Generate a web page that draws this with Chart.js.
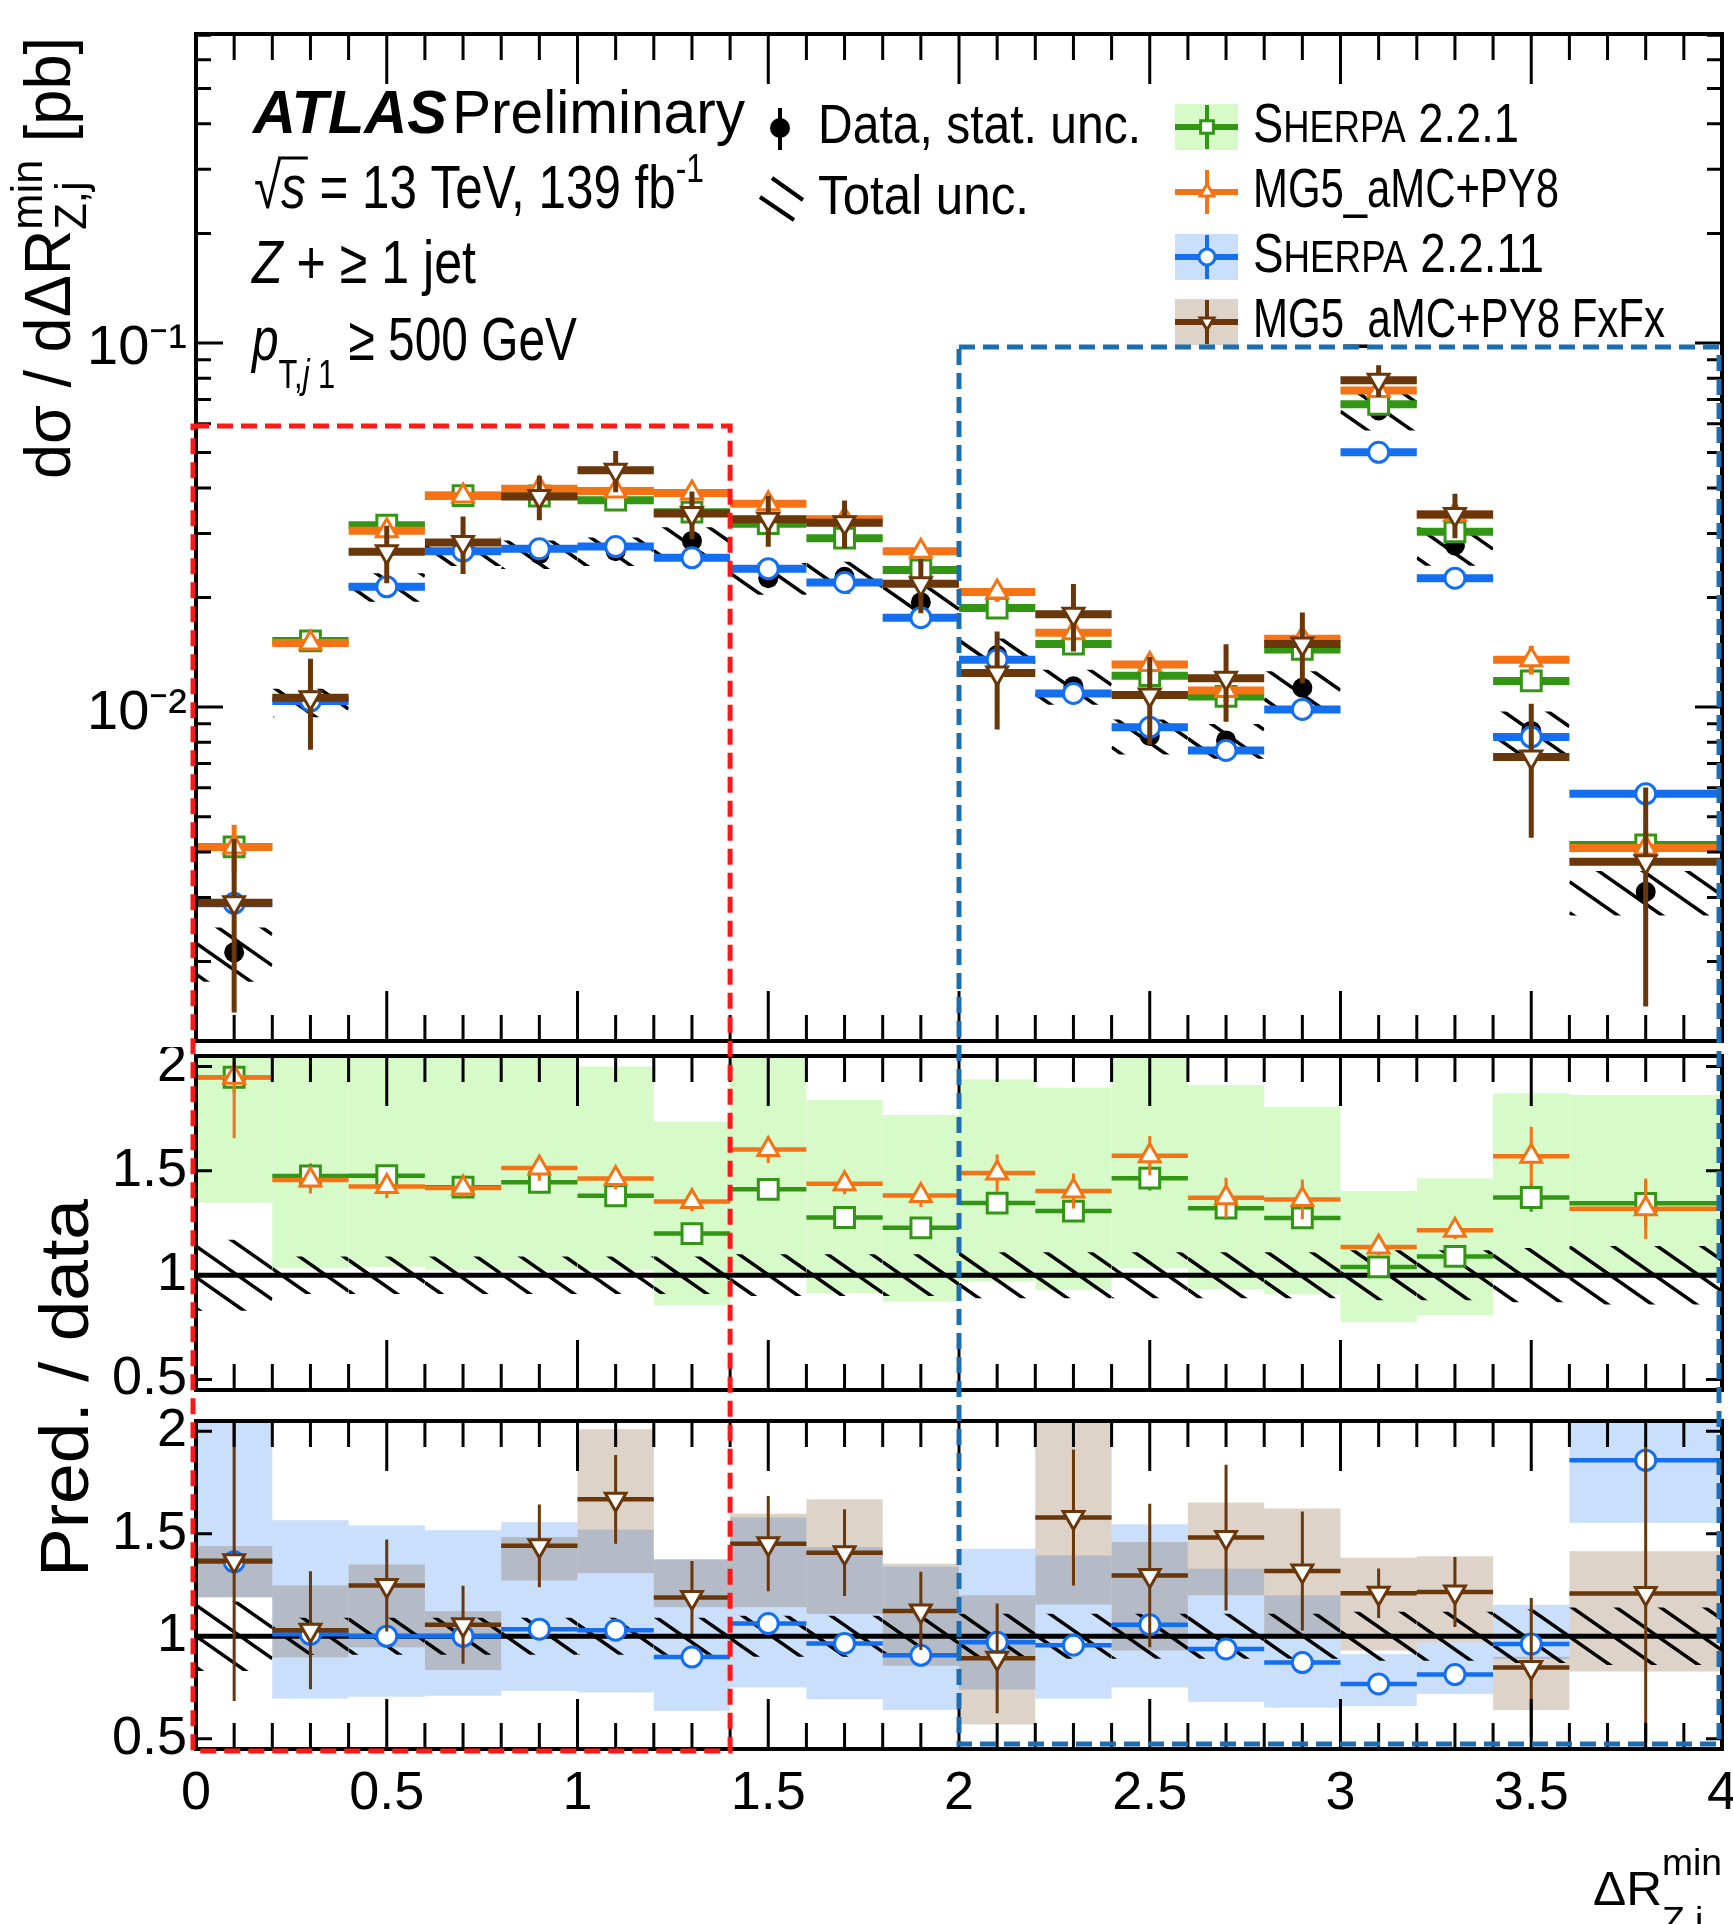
<!DOCTYPE html>
<html>
<head>
<meta charset="utf-8">
<title>Z + jet, dR min</title>
<script src="https://cdn.jsdelivr.net/npm/chart.js@4.4.1/dist/chart.umd.min.js"></script>
<style>
  html, body { margin: 0; padding: 0; background: #fff; }
  #page { position: relative; width: 1733px; height: 1924px; overflow: hidden; background: #fff; }
  #page canvas { position: absolute; left: 0; }
</style>
</head>
<body>
<div id="page">
  <canvas id="mainChart" width="1733" height="1047" style="top:0"></canvas>
  <canvas id="ratioTop" width="1733" height="359" style="top:1047px"></canvas>
  <canvas id="ratioBottom" width="1733" height="518" style="top:1406px"></canvas>
  <canvas id="overlay" width="1733" height="1924" style="top:0;pointer-events:none"></canvas>
</div>
<script>
//--------------------------------------------Data

const binEdges = [0, 0.2, 0.4, 0.6, 0.8, 1.0, 1.2, 1.4, 1.6, 1.8, 2.0, 2.2, 2.4, 2.6, 2.8, 3.0, 3.2, 3.4, 3.6, 4.0];

// measured cross section [pb] and relative uncertainties
const dataXsec  = [0.00212, 0.0103, 0.0214, 0.0268, 0.0263, 0.0268, 0.0286, 0.0226, 0.0228, 0.0194, 0.0139, 0.0114, 0.00833, 0.0081, 0.0113, 0.0653, 0.0278, 0.0086, 0.00311];
const dataStat  = [0.10, 0.04, 0.03, 0.02, 0.02, 0.02, 0.03, 0.03, 0.03, 0.03, 0.04, 0.04, 0.05, 0.05, 0.05, 0.02, 0.03, 0.06, 0.10];
const dataTotal = [0.17, 0.09, 0.09, 0.09, 0.09, 0.09, 0.09, 0.10, 0.10, 0.10, 0.11, 0.11, 0.11, 0.11, 0.11, 0.12, 0.12, 0.13, 0.14];

// predictions [pb] and relative stat. uncertainties
const sherpa221     = [0.00413, 0.0152, 0.0316, 0.0381, 0.0380, 0.0370, 0.0343, 0.0319, 0.0291, 0.0238, 0.0187, 0.0149, 0.0122, 0.0107, 0.0144, 0.0679, 0.0303, 0.0118, 0.00418];
const sherpa221Err  = [0.04, 0.04, 0.03, 0.02, 0.025, 0.025, 0.02, 0.025, 0.025, 0.03, 0.03, 0.035, 0.04, 0.04, 0.04, 0.025, 0.03, 0.05, 0.08];
const mg5           = [0.00413, 0.0150, 0.0305, 0.0380, 0.0398, 0.0392, 0.0387, 0.0362, 0.0328, 0.0268, 0.0207, 0.0160, 0.0131, 0.0111, 0.0154, 0.0741, 0.0338, 0.0135, 0.00410];
const mg5Err        = [0.15, 0.045, 0.04, 0.03, 0.04, 0.035, 0.035, 0.04, 0.035, 0.04, 0.06, 0.06, 0.06, 0.07, 0.07, 0.035, 0.035, 0.09, 0.11];
const sherpa2211    = [0.00289, 0.0104, 0.0214, 0.0268, 0.0272, 0.0276, 0.0257, 0.0240, 0.0220, 0.0176, 0.0135, 0.0109, 0.00880, 0.00760, 0.00985, 0.0501, 0.0226, 0.00827, 0.00578];
const sherpa2211Err = [0.04, 0.02, 0.02, 0.02, 0.02, 0.02, 0.02, 0.02, 0.02, 0.02, 0.03, 0.03, 0.03, 0.03, 0.03, 0.02, 0.02, 0.03, 0.03];
const fxfx          = [0.00290, 0.0106, 0.0267, 0.0283, 0.0379, 0.0447, 0.0340, 0.0328, 0.0321, 0.0218, 0.0124, 0.0180, 0.0108, 0.0120, 0.0149, 0.0790, 0.0338, 0.00729, 0.00376];
const fxfxErr       = [0.5, 0.28, 0.18, 0.18, 0.14, 0.13, 0.15, 0.16, 0.15, 0.17, 0.3, 0.21, 0.27, 0.24, 0.22, 0.1, 0.14, 0.4, 0.6];

// theory uncertainty bands, as pred./data
const sherpa221BandLo  = [1.347, 1.033, 1.04, 1.024, 1.024, 1.024, 0.857, 0.99, 0.913, 0.873, 0.969, 0.929, 1.033, 0.932, 0.908, 0.774, 0.809, 0.985, 1.01];
const sherpa221BandHi  = [2.2, 2.2, 2.2, 2.2, 2.2, 2.0, 1.735, 2.2, 1.839, 1.767, 1.938, 1.898, 2.2, 1.911, 1.807, 1.403, 1.464, 1.871, 1.863];
const sherpa2211BandLo = [1.19, 0.696, 0.705, 0.71, 0.734, 0.726, 0.636, 0.75, 0.693, 0.64, 0.74, 0.696, 0.75, 0.68, 0.652, 0.66, 0.718, 0.889, 1.553];
const sherpa2211BandHi = [2.2, 1.566, 1.541, 1.517, 1.557, 1.52, 1.375, 1.58, 1.435, 1.34, 1.427, 1.394, 1.546, 1.33, 1.199, 0.913, 0.97, 1.153, 2.2];
const fxfxBandLo       = [1.19, 0.897, 0.946, 0.835, 1.272, 1.308, 1.142, 1.142, 1.109, 0.856, 0.57, 1.155, 0.93, 1.2, 1.01, 0.93, 0.97, 0.64, 0.828];
const fxfxBandHi       = [1.44, 1.248, 1.35, 1.122, 1.484, 2.01, 1.375, 1.598, 1.668, 1.354, 1.2, 2.2, 1.46, 1.652, 1.623, 1.383, 1.39, 0.9, 1.415];

const xTicks = [0, 0.5, 1, 1.5, 2, 2.5, 3, 3.5, 4];
const mainTicks = [0.01, 0.1];
const ratioTicks = [0.5, 1, 1.5, 2];

// highlighted regions (x range, top edge in pb)
const redBox = { x0: 0, x1: 1.4, top: 0.0592 };
const blueBox = { x0: 2.0, x1: 4.0, top: 0.0975 };

//--------------------------------------------Style

const SANS = '"Liberation Sans", Arial, Helvetica, sans-serif';
const NARROW = '"Liberation Sans Narrow", "Liberation Sans", Arial, sans-serif';

const LOOK = {
    sherpa221:  { color: 'rgb(50,150,20)',  style: 'rect',     rot: 0,   r: 14 },
    mg5:        { color: 'rgb(245,115,20)', style: 'triangle', rot: 0,   r: 12 },
    sherpa2211: { color: 'rgb(20,110,240)', style: 'circle',   rot: 0,   r: 10 },
    fxfx:       { color: 'rgb(105,55,10)',  style: 'triangle', rot: 180, r: 12 },
};
const BAND_GREEN = 'rgb(214,250,200)';
const BAND_BLUE = 'rgba(120,175,245,0.4)';
const BAND_BROWN = 'rgba(120,80,40,0.25)';

const mainYMin = 0.00121, mainYMax = 0.706;
const ratioMin = 0.45, ratioMax = 2.05;

//--------------------------------------------Helpers

const centers = binEdges.slice(0, -1).map((e, i) => (e + binEdges[i + 1]) / 2);
const ratioOf = vals => vals.map((v, i) => v / dataXsec[i]);

function segData(vals) {
    const pts = [];
    vals.forEach((v, i) => {
        pts.push({ x: binEdges[i], y: v }, { x: binEdges[i + 1], y: v }, { x: binEdges[i + 1], y: null });
    });
    return pts;
}

function errData(vals, rel) {
    const pts = [];
    vals.forEach((v, i) => {
        const e = v * rel[i];
        pts.push({ x: centers[i], y: v - e }, { x: centers[i], y: v + e }, { x: centers[i], y: null });
    });
    return pts;
}

const markerData = vals => vals.map((v, i) => ({ x: centers[i], y: v }));

function series(vals, rel, look, layer, lw, elw) {
    return [
        { data: segData(vals), showLine: true, borderColor: look.color, borderWidth: lw, pointRadius: 0, order: layer * 3 + 2 },
        { data: errData(vals, rel), showLine: true, borderColor: look.color, borderWidth: elw, pointRadius: 0, order: layer * 3 + 1 },
        {
            data: markerData(vals), showLine: false, pointStyle: look.style, pointRotation: look.rot,
            pointRadius: look.r, pointBackgroundColor: '#fff', pointBorderColor: look.color, pointBorderWidth: 3,
            order: layer * 3
        }
    ];
}

// text made of pieces (super/subscripts), squeezed to a given width
function rich(ctx, parts, x, y, width) {
    const fontOf = p => `${p.italic ? 'italic ' : ''}${p.bold ? 'bold ' : ''}${p.size}px ${SANS}`;
    let adv = 0, prevStart = 0;
    const laid = parts.map(p => {
        ctx.font = fontOf(p);
        const w = ctx.measureText(p.t).width;
        let x0;
        if (p.stack) { x0 = prevStart; adv = Math.max(adv, x0 + w); }
        else { x0 = adv; adv += w; }
        prevStart = x0;
        return { p, x0, w };
    });
    const s = width ? width / adv : 1;
    ctx.save();
    ctx.translate(x, y);
    ctx.scale(s, 1);
    laid.forEach(({ p, x0 }) => { ctx.font = fontOf(p); ctx.fillText(p.t, x0, p.dy || 0); });
    ctx.restore();
    return laid.map(l => ({ x0: x + l.x0 * s, x1: x + (l.x0 + l.w) * s }));
}

function hatchRect(ctx, x0, y0, x1, y1) {
    const slope = 0.7, step = 31;
    ctx.save();
    ctx.beginPath();
    ctx.rect(x0, y0, x1 - x0, y1 - y0);
    ctx.clip();
    ctx.beginPath();
    const kMin = Math.floor((y0 - slope * x1) / step), kMax = Math.ceil((y1 - slope * x0) / step);
    for (let k = kMin; k <= kMax; k++) {
        const c = k * step;
        ctx.moveTo(x0, slope * x0 + c);
        ctx.lineTo(x1, slope * x1 + c);
    }
    ctx.stroke();
    ctx.restore();
}

function marker(ctx, style, x, y, r, color) {
    ctx.save();
    ctx.fillStyle = '#fff';
    ctx.strokeStyle = color;
    ctx.lineWidth = 3;
    ctx.beginPath();
    if (style === 'rect') ctx.rect(x - r * 0.707, y - r * 0.707, r * 1.414, r * 1.414);
    else if (style === 'circle') ctx.arc(x, y, r, 0, 2 * Math.PI);
    else {
        const d = style === 'down' ? -1 : 1;
        ctx.moveTo(x, y - d * r);
        ctx.lineTo(x + 0.866 * r, y + d * r / 2);
        ctx.lineTo(x - 0.866 * r, y + d * r / 2);
        ctx.closePath();
    }
    ctx.fill();
    ctx.stroke();
    ctx.restore();
}

const xMinor = [];
xTicks.slice(0, -1).forEach((t, i) => {
    for (let k = 0; k < 5; k++) xMinor.push({ v: t + k * (xTicks[i + 1] - t) / 5, major: k === 0 });
});
xMinor.push({ v: xTicks[xTicks.length - 1], major: true });

const logMinor = [];
for (let e = -3; e <= -1; e++) {
    for (let k = 2; k <= 9; k++) {
        const v = k * Math.pow(10, e);
        if (v > mainYMin && v < mainYMax) logMinor.push(v);
    }
}

//--------------------------------------------Plugin

function panelPlugin(cfg) {
    return {
        id: 'panel',
        beforeDatasetsDraw(chart) {
            const { ctx, chartArea: a } = chart;
            const x = chart.scales.x, y = chart.scales.y;
            ctx.save();
            ctx.beginPath();
            ctx.rect(a.left, a.top, a.right - a.left, a.bottom - a.top);
            ctx.clip();
            (cfg.bands || []).forEach(b => {
                ctx.fillStyle = b.color;
                b.lo.forEach((lo, i) => {
                    const x0 = x.getPixelForValue(binEdges[i]), x1 = x.getPixelForValue(binEdges[i + 1]);
                    const y0 = y.getPixelForValue(b.hi[i]), y1 = y.getPixelForValue(lo);
                    ctx.fillRect(x0, y0, x1 - x0, y1 - y0);
                });
            });
            ctx.strokeStyle = '#000';
            ctx.lineWidth = 3.5;
            cfg.hatch.center.forEach((c, i) => {
                const u = cfg.hatch.unc[i];
                hatchRect(ctx, x.getPixelForValue(binEdges[i]), y.getPixelForValue(c * (1 + u)),
                    x.getPixelForValue(binEdges[i + 1]), y.getPixelForValue(c * (1 - u)));
            });
            if (cfg.unity) {
                const p = y.getPixelForValue(1);
                ctx.lineWidth = 5;
                ctx.beginPath();
                ctx.moveTo(a.left, p);
                ctx.lineTo(a.right, p);
                ctx.stroke();
            }
            ctx.restore();
        },
        afterDatasetsDraw(chart) {
            const { ctx, chartArea: a } = chart;
            const x = chart.scales.x, y = chart.scales.y;
            ctx.save();
            ctx.strokeStyle = '#000';
            ctx.lineWidth = 3;
            ctx.beginPath();
            xMinor.forEach(t => {
                const p = x.getPixelForValue(t.v), L = t.major ? 50 : 26;
                ctx.moveTo(p, a.top); ctx.lineTo(p, a.top + L);
                ctx.moveTo(p, a.bottom); ctx.lineTo(p, a.bottom - L);
            });
            const yTick = (v, L) => {
                const p = y.getPixelForValue(v);
                ctx.moveTo(a.left, p); ctx.lineTo(a.left + L, p);
                ctx.moveTo(a.right, p); ctx.lineTo(a.right - L, p);
            };
            cfg.yMajor.forEach(v => yTick(v, cfg.yLen[0]));
            cfg.yMinor.forEach(v => yTick(v, cfg.yLen[1]));
            ctx.stroke();
            ctx.lineWidth = 4;
            ctx.strokeRect(a.left, a.top, a.right - a.left, a.bottom - a.top);
            ctx.restore();
        },
        afterDraw(chart) {
            if (cfg.decor) cfg.decor(chart.ctx);
        }
    };
}

//--------------------------------------------Decorations

function mainDecor(ctx) {
    ctx.save();
    ctx.fillStyle = '#000';
    ctx.textAlign = 'left';
    ctx.textBaseline = 'alphabetic';

    rich(ctx, [{ t: 'ATLAS', size: 62, bold: true, italic: true }], 253, 133, 194);
    rich(ctx, [{ t: 'Preliminary', size: 62 }], 452, 133, 293);
    const sq = rich(ctx, [{ t: '√', size: 62 }, { t: 's', size: 62, italic: true }, { t: ' = 13 TeV, 139 fb', size: 62 }, { t: '-1', size: 40, dy: -26 }], 254, 208, 450);
    ctx.strokeStyle = '#000';
    ctx.lineWidth = 3;
    ctx.beginPath();
    ctx.moveTo(sq[0].x1 - 3, 158);
    ctx.lineTo(sq[1].x1 + 2, 158);
    ctx.stroke();
    rich(ctx, [{ t: 'Z', size: 62, italic: true }, { t: ' + ≥ 1 jet', size: 62 }], 252, 283, 224);
    rich(ctx, [{ t: 'p', size: 62, italic: true }, { t: 'T,', size: 40, dy: 28 }, { t: 'j', size: 40, dy: 28, italic: true }, { t: ' 1', size: 40, dy: 28 }, { t: ' ≥ 500 GeV', size: 62 }], 252, 360, 325);

    // legend, left column
    ctx.fillStyle = '#000';
    ctx.beginPath();
    ctx.arc(780, 128, 10, 0, 2 * Math.PI);
    ctx.fill();
    ctx.lineWidth = 4;
    ctx.beginPath();
    ctx.moveTo(780, 108); ctx.lineTo(780, 150);
    ctx.moveTo(760, 197); ctx.lineTo(794, 220);
    ctx.moveTo(772, 178); ctx.lineTo(803, 200);
    ctx.stroke();
    rich(ctx, [{ t: 'Data, stat. unc.', size: 56 }], 818, 143, 323);
    rich(ctx, [{ t: 'Total unc.', size: 56 }], 818, 214, 211);

    // legend, right column
    const entries = [
        { look: LOOK.sherpa221, band: BAND_GREEN, cy: 127, w: 266, parts: [{ t: 'S', size: 56 }, { t: 'HERPA', size: 45 }, { t: ' 2.2.1', size: 56 }] },
        { look: LOOK.mg5, band: null, cy: 192, w: 306, parts: [{ t: 'MG5_aMC+PY8', size: 56 }] },
        { look: LOOK.sherpa2211, band: BAND_BLUE, cy: 257, w: 291, parts: [{ t: 'S', size: 56 }, { t: 'HERPA', size: 45 }, { t: ' 2.2.11', size: 56 }] },
        { look: LOOK.fxfx, band: BAND_BROWN, cy: 322, w: 412, parts: [{ t: 'MG5_aMC+PY8 FxFx', size: 56 }] },
    ];
    entries.forEach(en => {
        const c = en.look.color;
        if (en.band) {
            ctx.fillStyle = en.band;
            ctx.fillRect(1175, en.cy - 23, 63, 46);
        }
        ctx.strokeStyle = c;
        ctx.lineWidth = 6;
        ctx.beginPath();
        ctx.moveTo(1175, en.cy); ctx.lineTo(1238, en.cy);
        ctx.stroke();
        ctx.lineWidth = 4;
        ctx.beginPath();
        ctx.moveTo(1207, en.cy - 22); ctx.lineTo(1207, en.cy + 22);
        ctx.stroke();
        const st = en.look.style === 'triangle' && en.look.rot === 180 ? 'down' : en.look.style;
        marker(ctx, st, 1207, en.cy, en.look.style === 'rect' ? 9 : 8, c);
        ctx.fillStyle = '#000';
        rich(ctx, en.parts, 1253, en.cy + 15, en.w);
    });

    // y title
    ctx.save();
    ctx.translate(70, 479);
    ctx.rotate(-Math.PI / 2);
    rich(ctx, [{ t: 'dσ / dΔR', size: 64 }, { t: 'min', size: 44, dy: -28 }, { t: 'Z,j', size: 44, dy: 16, stack: true }, { t: ' [pb]', size: 64 }], 0, 0, 442);
    ctx.restore();
    ctx.restore();
}

function bottomDecor(ctx) {
    ctx.save();
    ctx.fillStyle = '#000';
    rich(ctx, [{ t: 'ΔR', size: 48 }, { t: 'min', size: 36, dy: -30 }, { t: 'Z,j', size: 36, dy: 28, stack: true }], 1593, 499, 129);
    ctx.restore();
}

//--------------------------------------------Charts

function yAxis(extra) {
    return Object.assign({
        afterFit: s => { s.width = 196; s.paddingTop = 0; s.paddingBottom = 0; },
        grid: { display: false, drawTicks: false },
        border: { display: false },
    }, extra);
}

const xHidden = { type: 'linear', min: 0, max: 4, display: false };
const xShown = {
    type: 'linear', min: 0, max: 4,
    afterBuildTicks: s => { s.ticks = xTicks.map(v => ({ value: v })); },
    afterFit: s => { s.height = 175; s.paddingLeft = 0; s.paddingRight = 0; },
    grid: { display: false, drawTicks: false },
    border: { display: false },
    ticks: { autoSkip: false, maxRotation: 0, padding: 13, color: '#000', font: { family: SANS, size: 54 }, callback: v => String(v) }
};
const SUP = { '-': '⁻', '1': '¹', '2': '²', '3': '³' };
const yMain = yAxis({
    type: 'logarithmic', min: mainYMin, max: mainYMax, bounds: 'data',
    afterBuildTicks: s => { s.ticks = mainTicks.map(v => ({ value: v })); },
    ticks: {
        padding: 9, labelOffset: 6, color: '#000', font: { family: NARROW, size: 56 },
        callback: v => '10' + String(Math.round(Math.log10(v))).split('').map(ch => SUP[ch]).join('')
    }
});
const yRatio = () => yAxis({
    type: 'linear', min: ratioMin, max: ratioMax,
    afterBuildTicks: s => { s.ticks = ratioTicks.map(v => ({ value: v })); },
    ticks: { padding: 9, color: '#000', font: { family: NARROW, size: 54 }, callback: v => String(v) }
});

function makeChart(id, cfg) {
    return new Chart(document.getElementById(id), {
        type: 'scatter',
        data: { datasets: cfg.datasets },
        options: {
            responsive: false,
            animation: false,
            events: [],
            devicePixelRatio: 1,
            layout: { autoPadding: false, padding: cfg.padding },
            plugins: { legend: { display: false }, tooltip: { enabled: false } },
            scales: { x: cfg.x, y: cfg.y }
        },
        plugins: [panelPlugin(cfg)]
    });
}

const mainChart = makeChart('mainChart', {
    datasets: [
        ...series(fxfx, fxfxErr, LOOK.fxfx, 0, 8, 5),
        ...series(sherpa2211, sherpa2211Err, LOOK.sherpa2211, 1, 8, 5),
        ...series(mg5, mg5Err, LOOK.mg5, 2, 8, 5),
        ...series(sherpa221, sherpa221Err, LOOK.sherpa221, 3, 8, 5),
        { data: errData(dataXsec, dataStat), showLine: true, borderColor: '#000', borderWidth: 4, pointRadius: 0, order: 13 },
        { data: markerData(dataXsec), showLine: false, pointStyle: 'circle', pointRadius: 10, pointBackgroundColor: '#000', pointBorderColor: '#000', pointBorderWidth: 0, order: 12 }
    ],
    padding: { left: 0, right: 11, top: 34, bottom: 6 },
    x: xHidden, y: yMain,
    hatch: { center: dataXsec, unc: dataTotal },
    unity: false,
    yMajor: mainTicks, yMinor: logMinor, yLen: [27, 15],
    decor: mainDecor
});

const ratioTop = makeChart('ratioTop', {
    datasets: [
        ...series(ratioOf(mg5), mg5Err, LOOK.mg5, 0, 4.5, 3),
        ...series(ratioOf(sherpa221), sherpa221Err, LOOK.sherpa221, 1, 4.5, 3)
    ],
    padding: { left: 0, right: 11, top: 9, bottom: 16 },
    x: xHidden, y: yRatio(),
    bands: [{ lo: sherpa221BandLo, hi: sherpa221BandHi, color: BAND_GREEN }],
    hatch: { center: ratioOf(dataXsec), unc: dataTotal },
    unity: true,
    yMajor: ratioTicks, yMinor: [], yLen: [16, 0]
});

const ratioBottom = makeChart('ratioBottom', {
    datasets: [
        ...series(ratioOf(fxfx), fxfxErr, LOOK.fxfx, 0, 4.5, 3),
        ...series(ratioOf(sherpa2211), sherpa2211Err, LOOK.sherpa2211, 1, 4.5, 3)
    ],
    padding: { left: 0, right: 11, top: 15, bottom: 0 },
    x: xShown, y: yRatio(),
    bands: [
        { lo: sherpa2211BandLo, hi: sherpa2211BandHi, color: BAND_BLUE },
        { lo: fxfxBandLo, hi: fxfxBandHi, color: BAND_BROWN }
    ],
    hatch: { center: ratioOf(dataXsec), unc: dataTotal },
    unity: true,
    yMajor: ratioTicks, yMinor: [], yLen: [16, 0],
    decor: bottomDecor
});

//--------------------------------------------Overlay (boxes across panels, ratio title)

const ov = document.getElementById('overlay').getContext('2d');
const X = ratioBottom.scales.x;
const panelBottom = 1406 + ratioBottom.chartArea.bottom;

ov.save();
ov.lineWidth = 5;
ov.setLineDash([16, 8]);
ov.strokeStyle = 'rgb(250,25,25)';
let boxTop = mainChart.scales.y.getPixelForValue(redBox.top);
let boxLeft = X.getPixelForValue(redBox.x0) - 3;
ov.strokeRect(boxLeft, boxTop, X.getPixelForValue(redBox.x1) - boxLeft, panelBottom + 2 - boxTop);
ov.strokeStyle = 'rgb(30,110,175)';
boxTop = mainChart.scales.y.getPixelForValue(blueBox.top);
boxLeft = X.getPixelForValue(blueBox.x0);
ov.strokeRect(boxLeft, boxTop, X.getPixelForValue(blueBox.x1) - 3 - boxLeft, panelBottom - 5 - boxTop);
ov.restore();

ov.save();
ov.fillStyle = '#000';
ov.translate(88, 1577);
ov.rotate(-Math.PI / 2);
rich(ov, [{ t: 'Pred. / data', size: 68 }], 0, 0, 378);
ov.restore();
</script>
</body>
</html>
